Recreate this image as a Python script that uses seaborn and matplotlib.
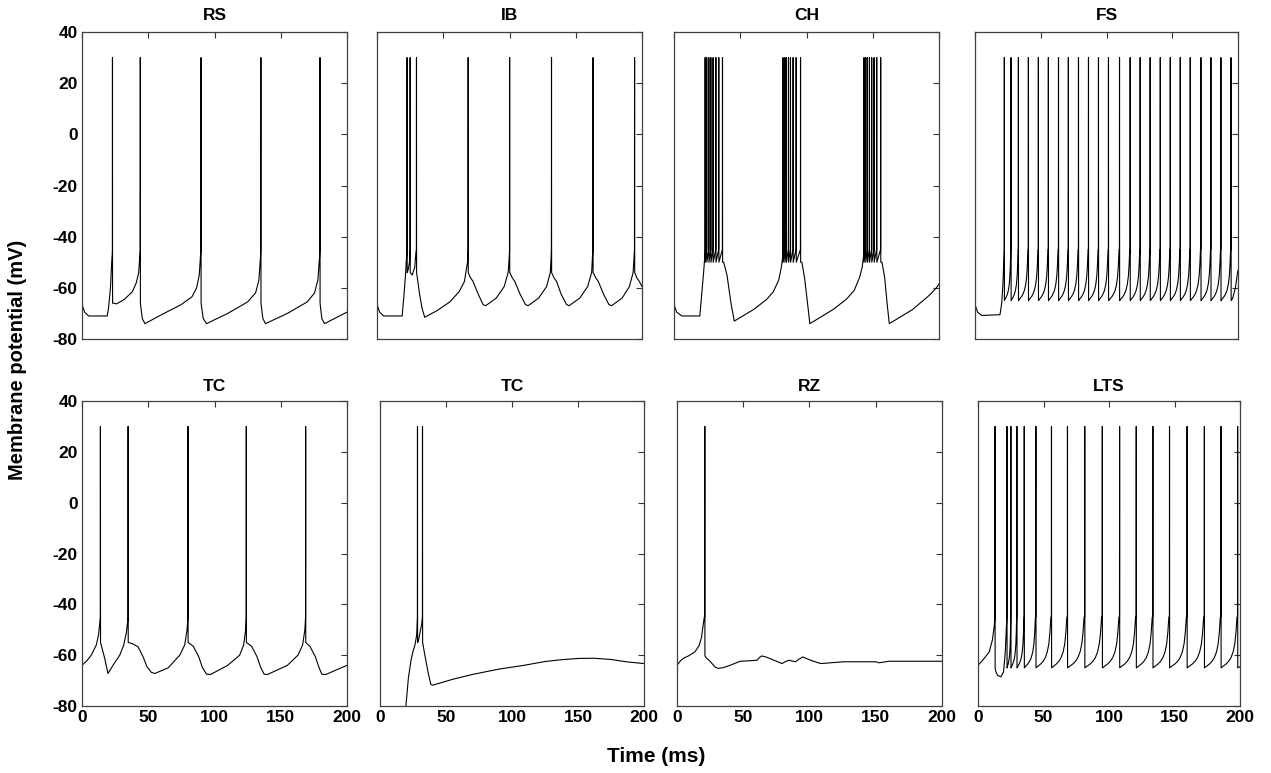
import pandas as pd
import seaborn as sns
import matplotlib.pyplot as plt

# spike peaks are clipped at +30 mV in every trace
PEAK = 30.0

titles = ['RS', 'IB', 'CH', 'FS', 'TC', 'TC', 'RZ', 'LTS']

# ---------------- RS (regular spiking)
rs_spikes = [23.0, 44.0, 89.8, 135.0, 179.6]
rs_reset = -66
rs_t = [0, 2, 5, 19, 20, 21.5, 22.4, 22.8,
        24.5, 26, 32, 38, 41, 42.8, 43.7,
        45.5, 47.5, 60, 75, 83, 86.5, 88.5, 89.5,
        91.5, 94, 110, 125, 131, 133.5, 134.7,
        136.5, 138.5, 155, 170, 175.5, 178, 179.3,
        181, 183, 200]
rs_v = [-66.5, -69.5, -71, -71, -68, -60, -50, -47,
        -66, -66.3, -64.5, -61.5, -58, -54, -47,
        -72, -74, -70.5, -66.5, -63.5, -60, -55, -47,
        -72, -74, -70, -65.5, -62, -57, -48,
        -72, -74, -70, -65.5, -62, -57, -48,
        -72, -74, -69.5]

# ---------------- IB (intrinsically bursting)
ib_spikes = [22.7, 25.0, 29.8, 68.8, 100.1, 131.7, 163.0, 194.4]
ib_reset = -54
ib_t = [0, 2, 5, 19, 20.5, 21.5, 22.3,
        23.5, 24.5, 26.5, 28.5, 29.4,
        32, 34, 36, 45, 55, 62, 66, 68.3,
        70.5, 72.5, 76, 80, 82, 90, 96, 99, 99.8,
        102, 104, 108, 112, 114, 122, 128, 130.8, 131.4,
        133.5, 135.5, 139, 143, 145, 153, 159, 162, 162.6,
        165, 167, 171, 175, 177, 185, 190.5, 193.3, 194,
        196, 198, 200]
ib_v = [-66.5, -69.5, -71, -71, -62, -55, -48,
        -53, -50, -55, -52, -46,
        -62, -68, -71.5, -69, -65.5, -61.5, -57.5, -50,
        -56, -57.5, -62, -66.5, -67, -64, -59.5, -54, -48,
        -56, -57.5, -62.5, -66.5, -67, -64, -59.5, -54, -48,
        -56, -57.5, -62.5, -66.5, -67, -64, -59.5, -54, -48,
        -56, -57.5, -62.5, -66.5, -67, -64, -59.5, -54, -48,
        -56, -57.5, -59.5]

# ---------------- CH (chattering)
ch_spikes = [23.5, 24.7, 26.3, 27.8, 29.5, 31.6, 33.8, 36.6,
             82.3, 83.6, 84.8, 86.4, 87.9, 89.9, 92.2, 95.5,
             143.4, 144.7, 146.0, 147.5, 149.2, 151.0, 153.0, 156.0]
ch_reset = -50
ch_t = [0, 2, 6, 19.5, 21, 22.5, 23.2,
        37.5, 40, 43, 45.5, 60, 70, 75, 79, 81, 82,
        96.5, 98.5, 101, 102.5, 120, 130, 136, 140, 142, 143,
        157, 159, 161, 162.5, 180, 192.5, 198, 200]
ch_v = [-66.5, -69.5, -71, -71, -62, -53, -48,
        -50, -55, -66, -73, -68.5, -64.5, -61.5, -57, -52, -48,
        -50, -56, -67, -74, -68.5, -64.5, -61, -56, -52, -48,
        -50, -56, -67, -74, -68.5, -63, -60, -58.5]

# ---------------- FS (fast spiking)
fs_spikes = [22.3, 27.4, 33.0, 40.6, 48.2, 55.8, 63.5, 71.0, 78.7, 86.3,
             93.9, 101.5, 109.9, 118.0, 125.6, 133.2, 140.9, 148.5, 156.1,
             163.7, 171.8, 179.4, 187.0, 194.7]
fs_reset = -65
fs_t = [0, 2, 5, 19, 20.3, 21.3, 21.9, 196, 198, 200]
fs_v = [-66.5, -69.5, -70.8, -70.5, -66, -58, -50, -64, -60, -53]

# ---------------- TC (thalamo-cortical, depolarised)
tc_spikes = [13.9, 34.8, 80.0, 124.0, 168.8]
tc_reset = -55
tc_t = [0, 4, 7, 10.8, 12.5, 13.5,
        17, 19.6, 24, 28.5, 31.5, 33.5, 34.4,
        38, 42.3, 46, 49, 52.4, 55, 65, 73.8, 77.5, 79.3,
        84, 88, 91, 94, 97, 110, 119, 122, 123.5,
        128, 132, 135, 137.5, 140, 155, 163, 166.5, 168.2,
        172, 176, 179, 181, 184, 200]
tc_v = [-64, -62, -60, -56, -52, -47,
        -61, -67.2, -63.5, -60, -56, -51, -47,
        -55.5, -56.7, -60.5, -64.5, -66.8, -67.2, -65, -60, -56, -50,
        -56.5, -60.5, -65, -67.5, -67.6, -64, -60, -56, -50,
        -56.5, -60.5, -65, -67.5, -67.6, -64, -60, -56, -50,
        -56.5, -60.5, -65, -67.5, -67.6, -64]

# ---------------- TC (thalamo-cortical, from hyperpolarisation)
tc2_spikes = [28.4, 32.2]
tc2_reset = -55
tc2_t = [0, 10, 17, 19.5, 20.5, 21.5, 23.5, 25, 26.5, 27.8,
         29, 30, 31.5,
         34, 36.5, 38.5, 40, 55, 70.8, 90, 109, 125, 137, 150, 162,
         175, 188, 200]
tc2_v = [-92, -88, -84, -80.5, -75, -69, -62, -58.5, -56, -52,
         -54.5, -52, -48,
         -60, -67, -71.5, -71.8, -69.5, -67.5, -65.5, -64, -62.5, -61.8,
         -61.3, -61.2, -61.7, -62.7, -63.3]

# ---------------- RZ (resonator)
rz_spikes = [21.0]
rz_reset = -60.3
rz_t = [0, 2.5, 4.6, 9, 13.5, 16.7, 18.5, 19.8, 20.6,
        22, 25.3, 28.6, 31, 35, 40, 47.6, 55, 60.3, 62.5, 64, 67, 70,
        79.2, 82, 84.3, 87, 89.4, 92, 95, 100.8, 108.4, 118.5, 126, 150,
        152.5, 160, 200]
rz_v = [-64, -62.3, -61.3, -60.2, -58.7, -56.2, -53, -48, -45,
        -61, -62.6, -64.6, -65.2, -64.9, -64, -62.4, -62.2, -62, -60.8,
        -60.3, -60.7, -61.3, -63.3, -62.5, -62, -62.3, -62.6, -61.6, -60.7,
        -62, -63.3, -62.9, -62.6, -62.6, -63, -62.4, -62.4]

# ---------------- LTS (low-threshold spiking)
lts_spikes = [13.0, 22.1, 25.1, 29.7, 35.3, 44.2, 56.1, 68.3, 81.5, 94.9,
              108.1, 120.8, 133.5, 146.2, 159.6, 172.8, 185.5, 198.2]
lts_reset = -65
lts_t = [0, 3.6, 8.6, 11, 12.3, 13.7, 15, 17.5, 19.5, 20.8, 21.6, 199, 200]
lts_v = [-64, -62, -58.7, -54, -49, -66.6, -68, -68.5, -66.6, -59, -50,
         -64.8, -64.5]

isi_frac = [0.1, 0.3, 0.45, 0.6, 0.73, 0.83, 0.9, 0.96]
isi_v = [-64.5, -63.5, -62.5, -61, -58.7, -55.5, -51, -45]


def build_trace(t_pts, v_pts, spikes, reset, train=None):
    pts = list(zip(t_pts, v_pts))
    for s in spikes:
        pts += [(s - 0.08, -45), (s, PEAK), (s + 0.08, reset)]
    if train is not None:
        for a, b in zip(train[:-1], train[1:]):
            pts += [(a + f * (b - a), v) for f, v in zip(isi_frac, isi_v)]
    pts.sort()
    return pd.DataFrame(pts, columns=['t', 'v'])


traces = [
    build_trace(rs_t, rs_v, rs_spikes, rs_reset),
    build_trace(ib_t, ib_v, ib_spikes, ib_reset),
    build_trace(ch_t, ch_v, ch_spikes, ch_reset),
    build_trace(fs_t, fs_v, fs_spikes, fs_reset, train=fs_spikes),
    build_trace(tc_t, tc_v, tc_spikes, tc_reset),
    build_trace(tc2_t, tc2_v, tc2_spikes, tc2_reset),
    build_trace(rz_t, rz_v, rz_spikes, rz_reset),
    build_trace(lts_t, lts_v, lts_spikes, lts_reset, train=lts_spikes[1:]),
]

sns.set_style('white')
plt.rcParams['font.family'] = ['Liberation Sans', 'DejaVu Sans']
plt.rcParams['font.weight'] = 'bold'
plt.rcParams['text.color'] = 'black'
plt.rcParams['axes.unicode_minus'] = False

W, H = 1271, 773
fig = plt.figure(figsize=(W / 100, H / 100), dpi=100)

# axes boxes in pixels: (left, right), (top, bottom)
cols = [[(82, 347), (377, 642), (674, 939), (975, 1238)],
        [(82, 347), (380, 644), (677, 942), (978, 1240)]]
rows = [(32, 339), (401, 706)]

for i, (name, df) in enumerate(zip(titles, traces)):
    r, c = divmod(i, 4)
    (x0, x1), (y0, y1) = cols[r][c], rows[r]
    ax = fig.add_axes([x0 / W, 1 - y1 / H, (x1 - x0) / W, (y1 - y0) / H])
    sns.lineplot(data=df, x='t', y='v', ax=ax, color='black', linewidth=0.8,
                 sort=False, estimator=None)
    ax.set_xlim(0, 200)
    ax.set_ylim(-80, 40)
    ax.set_xticks(range(0, 201, 50))
    ax.set_yticks(range(-80, 41, 20))
    ax.set_xlabel('')
    ax.set_ylabel('')
    ax.tick_params(direction='in', top=True, right=True, length=4, width=0.8,
                   labelsize=12.5, pad=3, colors='0.2', labelcolor='black',
                   labelleft=(c == 0), labelbottom=(r == 1))
    for sp in ax.spines.values():
        sp.set_color('0.25')
        sp.set_linewidth(0.9)
    ax.set_title(name, fontsize=12.5, fontweight='bold', color='black',
                 pad=9 if r == 0 else 7)

fig.text(0.014, 0.534, 'Membrane potential (mV)', rotation=90, ha='center',
         va='center', fontsize=14.5, fontweight='bold', color='black')
fig.text(0.516, 0.021, 'Time (ms)', ha='center', va='center', fontsize=15,
         fontweight='bold', color='black')

fig.savefig('out.png', dpi=100)
